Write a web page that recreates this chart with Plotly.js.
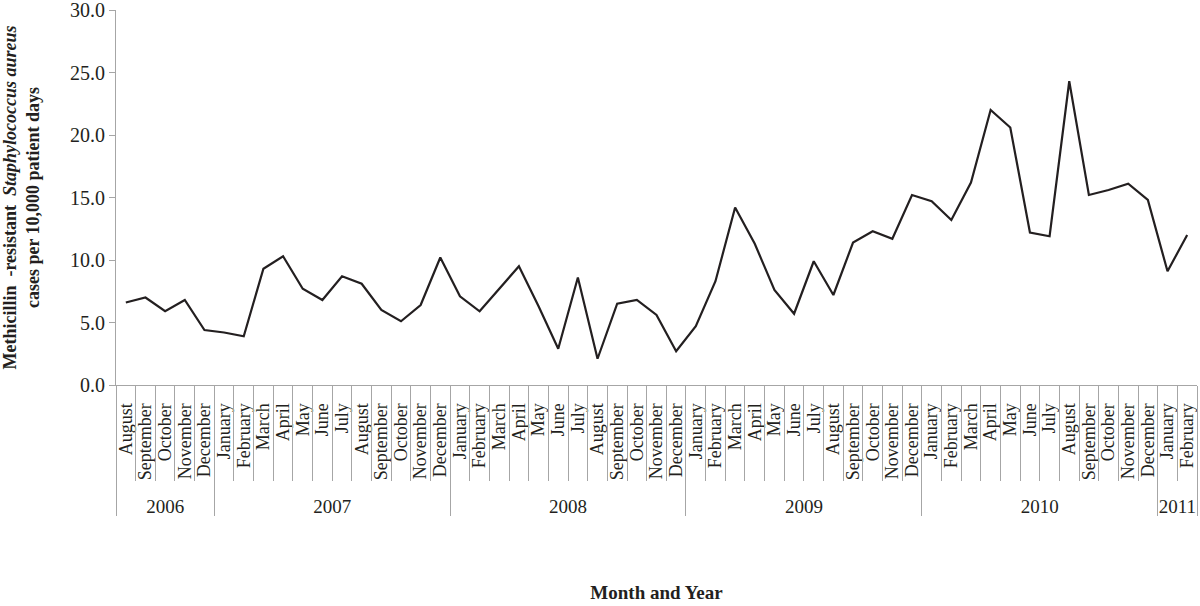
<!DOCTYPE html>
<html>
<head>
<meta charset="utf-8">
<script src="https://cdn.plot.ly/plotly-3.0.1.min.js"></script>
<style>html,body{margin:0;padding:0;background:#fff;}#chart{width:1200px;height:606px;}</style>
</head>
<body>
<div id="chart"></div>
<script>
// ---- data ----
const years = ["2006", "2007", "2008", "2009", "2010", "2011"];
const months2006 = ["August", "September", "October", "November", "December"];
const monthsFull = ["January", "February", "March", "April", "May", "June", "July", "August", "September", "October", "November", "December"];
const months2011 = ["January", "February"];
const monthsPerYear = [months2006, monthsFull, monthsFull, monthsFull, monthsFull, months2011];
const mrsaRate = [
  6.6, 7.0, 5.9, 6.8, 4.4,
  4.2, 3.9, 9.3, 10.3, 7.7, 6.8, 8.7, 8.1, 6.0, 5.1, 6.4, 10.2,
  7.1, 5.9, 7.7, 9.5, 6.3, 2.9, 8.6, 2.1, 6.5, 6.8, 5.6, 2.7,
  4.7, 8.3, 14.2, 11.3, 7.6, 5.7, 9.9, 7.2, 11.4, 12.3, 11.7, 15.2,
  14.7, 13.2, 16.2, 22.0, 20.6, 12.2, 11.9, 24.3, 15.2, 15.6, 16.1, 14.8,
  9.1, 12.0
];
const yTicks = [0, 5, 10, 15, 20, 25, 30];

// ---- derived category structure ----
const monthLabels = [];
const yearCenters = [];
const yearBounds = [];
let idx = 0;
monthsPerYear.forEach((ms) => {
  yearBounds.push(idx - 0.5);
  yearCenters.push(idx + (ms.length - 1) / 2);
  ms.forEach(m => monthLabels.push(m));
  idx += ms.length;
});
yearBounds.push(idx - 0.5);
const n = monthLabels.length;
const pos = monthLabels.map((_, i) => i);
const monthBounds = [];
for (let i = 0; i <= n; i++) monthBounds.push(i - 0.5);

const serif = "'Liberation Serif', 'Times New Roman', serif";
const ink = "#231f20";
const gray = "#a6a6a6";

function ghost(xa) {
  return {type: "scatter", mode: "lines", x: pos, y: mrsaRate,
    line: {color: "rgba(0,0,0,0)", width: 0}, xaxis: xa, yaxis: "y",
    hoverinfo: "skip", showlegend: false};
}

const traces = [
  {
    type: "scatter", mode: "lines",
    x: pos, y: mrsaRate,
    line: {color: ink, width: 2.2},
    xaxis: "x", yaxis: "y", showlegend: false,
    text: monthLabels, hovertemplate: "%{text}: %{y:.1f}<extra></extra>"
  },
  ghost("x2"), ghost("x3"), ghost("x4")
];

const xr = [-0.5, n - 0.5];
const overlayBase = {
  overlaying: "x", anchor: "y", side: "bottom", range: xr,
  showline: false, showgrid: false, zeroline: false
};

const layout = {
  width: 1200, height: 606,
  margin: {l: 116, r: 3, t: 10, b: 221},
  paper_bgcolor: "#fff", plot_bgcolor: "#fff",
  font: {family: serif, color: ink},
  showlegend: false,
  // month labels
  xaxis: {
    range: xr,
    showline: true, linecolor: gray, linewidth: 1,
    showgrid: false, zeroline: false,
    tickmode: "array", tickvals: pos, ticktext: monthLabels,
    ticks: "outside", ticklen: 10, tickcolor: "rgba(0,0,0,0)",
    tickangle: -90,
    tickfont: {family: serif, size: 18, color: ink},
    title: {text: "Month and Year", font: {family: serif, size: 19, color: ink, weight: "bold"}, standoff: 106}
  },
  // month boundaries
  xaxis2: Object.assign({}, overlayBase, {
    tickmode: "array", tickvals: monthBounds, ticktext: monthBounds.map(() => ""),
    ticks: "outside", ticklen: 95, tickcolor: gray, tickwidth: 1,
    showticklabels: false
  }),
  // year labels
  xaxis3: Object.assign({}, overlayBase, {
    tickmode: "array", tickvals: yearCenters, ticktext: years,
    ticks: "outside", ticklen: 104, tickcolor: "rgba(0,0,0,0)",
    tickangle: 0,
    tickfont: {family: serif, size: 19, color: ink}
  }),
  // year dividers
  xaxis4: Object.assign({}, overlayBase, {
    tickmode: "array", tickvals: yearBounds, ticktext: yearBounds.map(() => ""),
    ticks: "outside", ticklen: 130, tickcolor: gray, tickwidth: 1,
    showticklabels: false
  }),
  yaxis: {
    range: [0, 30],
    tickmode: "array", tickvals: yTicks, ticktext: yTicks.map(v => v.toFixed(1)),
    ticklabeloverflow: "allow",
    showline: true, linecolor: gray, linewidth: 1,
    showgrid: false, zeroline: false,
    ticks: "outside", ticklen: 6, tickcolor: gray,
    tickfont: {family: serif, size: 20, color: ink},
    title: {
      text: "Methicillin  -resistant  <i>Staphylococcus aureus</i><br>cases per 10,000 patient days",
      font: {family: serif, size: 18, color: ink, weight: "bold"},
      standoff: 28
    }
  }
};

Plotly.newPlot("chart", traces, layout, {displayModeBar: false, staticPlot: true});
</script>
</body>
</html>
